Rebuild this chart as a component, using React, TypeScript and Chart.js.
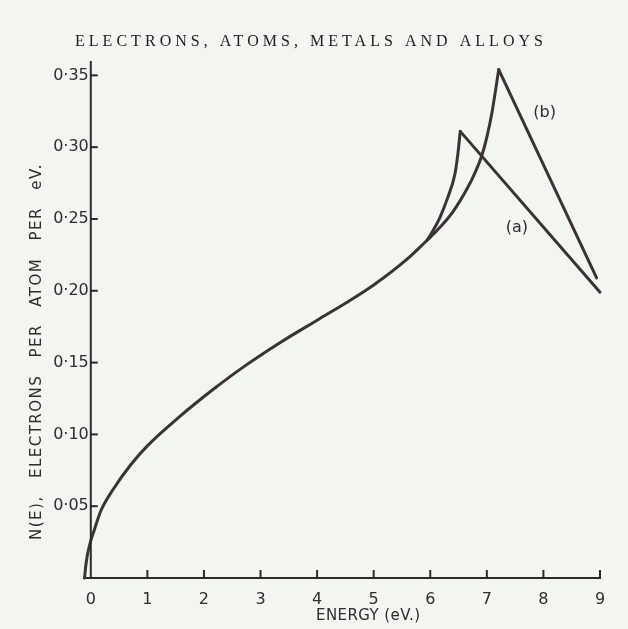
import React, { useEffect, useRef } from 'react';
import { Chart, registerables } from 'chart.js';

Chart.register(...registerables);

// ---- data ----
const commonEnergy = [-0.11, -0.09, -0.06, 0.0, 0.05, 0.18, 0.4, 0.71, 1.0, 1.59, 2.12, 2.7, 3.35, 4.0, 4.53, 5.0, 5.59, 5.94];
const commonDensity = [0, 0.008, 0.016, 0.026, 0.032, 0.047, 0.062, 0.079, 0.092, 0.113, 0.13, 0.147, 0.164, 0.1795, 0.192, 0.204, 0.222, 0.235];

const aRiseEnergy = [5.94, 6.05, 6.17, 6.3, 6.44, 6.49, 6.53];
const aRiseDensity = [0.235, 0.242, 0.251, 0.264, 0.282, 0.296, 0.311];
const aFallEnergy = [6.53, 9.0];
const aFallDensity = [0.311, 0.199];

const bRiseEnergy = [5.94, 6.12, 6.4, 6.65, 6.8, 6.91, 7.0, 7.09, 7.21];
const bRiseDensity = [0.235, 0.242, 0.255, 0.271, 0.283, 0.294, 0.307, 0.324, 0.354];
const bFallEnergy = [7.21, 8.94];
const bFallDensity = [0.354, 0.209];

const curveLabels = ['(a)', '(b)'];
const curveLabelEnergy = [7.53, 8.02];
const curveLabelDensity = [0.244, 0.324];

const xTickLabels = ['0', '1', '2', '3', '4', '5', '6', '7', '8', '9'];
const yTickLabels = ['', '0·05', '0·10', '0·15', '0·20', '0·25', '0·30', '0·35'];

const titleText = 'ELECTRONS, ATOMS, METALS AND ALLOYS';
const yTitleText = 'N(E), ELECTRONS PER ATOM PER eV.';
const xTitleText = 'ENERGY (eV.)';

const LINE = '#3a3335';
const AXIS = '#2a2a2a';
const TEXT = '#2e2e2e';
const BG = '#f2f5f0';

const toPoints = (xs: number[], ys: number[]) => xs.map((x, i) => ({ x, y: ys[i] }));

const lineDataset = (xs: number[], ys: number[], smooth: boolean) => ({
  data: toPoints(xs, ys),
  borderColor: LINE,
  borderWidth: 3,
  pointRadius: 0,
  fill: false,
  clip: false as any,
  borderCapStyle: 'round' as const,
  borderJoinStyle: 'round' as const,
  cubicInterpolationMode: smooth ? ('monotone' as const) : ('default' as const),
  tension: smooth ? 0.4 : 0,
});

function drawSpaced(ctx: any, text: string, x: number, y: number, width: number, mode: 'letter' | 'word', letter = 0) {
  ctx.letterSpacing = letter + 'px';
  ctx.wordSpacing = '0px';
  const w = ctx.measureText(text).width;
  if (mode === 'letter') {
    const n = text.length;
    const sp = (width - w) / (n - 1) + letter;
    ctx.letterSpacing = sp + 'px';
  } else {
    const gaps = text.split(' ').length - 1;
    ctx.wordSpacing = Math.max(0, (width - w) / gaps) + 'px';
  }
  ctx.fillText(text, x, y);
  ctx.letterSpacing = '0px';
  ctx.wordSpacing = '0px';
}

const decorPlugin = {
  id: 'decor',
  afterDraw(chart: any) {
    const { ctx, chartArea, scales } = chart;
    const xs = scales.x;
    const ys = scales.y;
    const x0 = xs.getPixelForValue(0);
    ctx.save();
    ctx.strokeStyle = AXIS;
    ctx.lineWidth = 2;
    ctx.lineCap = 'butt';
    // vertical axis line at E = 0
    ctx.beginPath();
    ctx.moveTo(x0, chartArea.bottom + 1);
    ctx.lineTo(x0, chartArea.top);
    ctx.stroke();
    // inward tick marks
    xs.ticks.forEach((t: any) => {
      if (t.value === 0) return;
      const px = xs.getPixelForValue(t.value);
      ctx.beginPath();
      ctx.moveTo(px, chartArea.bottom);
      ctx.lineTo(px, chartArea.bottom - 8);
      ctx.stroke();
    });
    ctx.fillStyle = TEXT;
    ctx.font = '16px "DejaVu Sans"';
    ctx.textAlign = 'right';
    ctx.textBaseline = 'middle';
    ys.ticks.forEach((t: any, i: number) => {
      if (t.value === 0) return;
      const py = ys.getPixelForValue(t.value);
      ctx.beginPath();
      ctx.moveTo(x0, py);
      ctx.lineTo(x0 + 7, py);
      ctx.stroke();
      ctx.fillText(yTickLabels[i] ?? '', x0 - 2, py);
    });

    // curve labels
    ctx.textAlign = 'center';
    curveLabels.forEach((lab, i) => {
      ctx.fillText(lab, xs.getPixelForValue(curveLabelEnergy[i]), ys.getPixelForValue(curveLabelDensity[i]));
    });

    // page title
    ctx.textAlign = 'left';
    ctx.textBaseline = 'alphabetic';
    ctx.font = '16px "Liberation Serif"';
    ctx.fillStyle = '#1e1e1e';
    drawSpaced(ctx, titleText, 75, 46, 468, 'letter');

    // x axis title
    ctx.font = '15px "DejaVu Sans"';
    ctx.fillStyle = TEXT;
    ctx.textAlign = 'left';
    ctx.textBaseline = 'middle';
    drawSpaced(ctx, xTitleText, 316, 616, 104, 'letter');

    // y axis title (rotated)
    ctx.save();
    ctx.translate(37, 540);
    ctx.rotate(-Math.PI / 2);
    ctx.textAlign = 'left';
    ctx.textBaseline = 'middle';
    drawSpaced(ctx, yTitleText, 0, 0, 377, 'word', 1.5);
    ctx.restore();

    ctx.restore();
  },
};

export default function App() {
  const canvasRef = useRef<HTMLCanvasElement | null>(null);

  useEffect(() => {
    document.body.style.margin = '0';
    const canvas = canvasRef.current;
    if (!canvas) return;
    const chart = new Chart(canvas, {
      type: 'line',
      data: {
        datasets: [
          lineDataset(commonEnergy, commonDensity, true),
          lineDataset(aRiseEnergy, aRiseDensity, true),
          lineDataset(aFallEnergy, aFallDensity, false),
          lineDataset(bRiseEnergy, bRiseDensity, true),
          lineDataset(bFallEnergy, bFallDensity, false),
        ] as any,
      },
      options: {
        animation: false,
        responsive: true,
        maintainAspectRatio: false,
        layout: { padding: { left: 0, right: 28, top: 61, bottom: 0 } },
        plugins: {
          legend: { display: false },
          title: { display: false },
          tooltip: { enabled: false },
        },
        scales: {
          x: {
            type: 'linear',
            min: -0.12,
            max: 9,
            grid: { display: false },
            border: { display: true, color: AXIS, width: 2 },
            ticks: {
              stepSize: 1,
              includeBounds: false,
              padding: 4,
              color: TEXT,
              font: { family: '"DejaVu Sans"', size: 16 },
              maxRotation: 0,
              autoSkip: false,
              callback: (_v: any, i: number) => xTickLabels[i] ?? '',
            },
            afterFit: (scale: any) => {
              scale.height = 51;
            },
          },
          y: {
            type: 'linear',
            min: 0,
            max: 0.36,
            grid: { display: false },
            border: { display: false },
            ticks: {
              display: false,
              stepSize: 0.05,
              includeBounds: false,
              autoSkip: false,
            },
            afterFit: (scale: any) => {
              scale.width = 84;
            },
          },
        },
      },
      plugins: [decorPlugin],
    });
    return () => chart.destroy();
  }, []);

  return (
    <div style={{ position: 'fixed', left: 0, top: 0, width: 628, height: 629, background: BG }}>
      <canvas ref={canvasRef} />
    </div>
  );
}
